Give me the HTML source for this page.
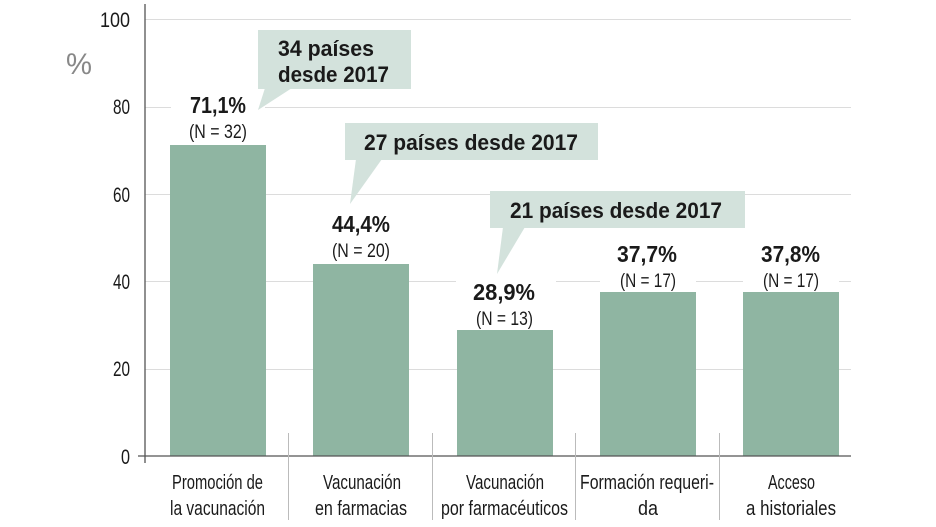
<!DOCTYPE html>
<html><head><meta charset="utf-8"><style>
html,body{margin:0;padding:0;background:#fff;width:936px;height:527px;overflow:hidden}
svg{display:block}
text{font-family:"Liberation Sans",sans-serif;fill:#1a1a1a}
.t{font-weight:bold;font-size:23px}
.n{font-size:19px}
.c{font-weight:bold;font-size:22px}
.ax{font-size:21px}
.cat{font-size:20px}
</style></head><body>
<svg width="936" height="527" viewBox="0 0 936 527">
<g stroke="#dcdcdc" stroke-width="1">
<line x1="145" y1="19.5" x2="851" y2="19.5"/>
<line x1="145" y1="107.5" x2="851" y2="107.5"/>
<line x1="145" y1="194.5" x2="851" y2="194.5"/>
<line x1="145" y1="281.5" x2="851" y2="281.5"/>
<line x1="145" y1="369.5" x2="851" y2="369.5"/>
</g>
<g fill="#fff">
<rect x="171" y="92" width="94" height="50"/>
<rect x="315" y="212" width="92" height="48"/>
<rect x="456" y="273" width="100" height="52"/>
<rect x="600" y="236" width="96" height="52"/>
<rect x="743" y="236" width="96" height="52"/>
</g>
<g fill="#8fb5a2">
<rect x="170" y="145" width="96" height="311"/>
<rect x="313" y="264" width="96" height="192"/>
<rect x="457" y="330" width="96" height="126"/>
<rect x="600" y="292" width="96" height="164"/>
<rect x="743" y="292" width="96" height="164"/>
</g>
<g stroke="#555" stroke-width="1.3">
<line x1="145" y1="4" x2="145" y2="463"/>
<line x1="138" y1="456" x2="851" y2="456"/>
</g>
<g stroke="#bbb" stroke-width="1">
<line x1="288.5" y1="433" x2="288.5" y2="520"/>
<line x1="432.5" y1="433" x2="432.5" y2="520"/>
<line x1="575.5" y1="433" x2="575.5" y2="520"/>
<line x1="719.5" y1="433" x2="719.5" y2="520"/>
</g>
<g class="ax" text-anchor="end">
<text x="130" y="27" textLength="30" lengthAdjust="spacingAndGlyphs">100</text>
<text x="130" y="114" textLength="17" lengthAdjust="spacingAndGlyphs">80</text>
<text x="130" y="202" textLength="17" lengthAdjust="spacingAndGlyphs">60</text>
<text x="130" y="289" textLength="17" lengthAdjust="spacingAndGlyphs">40</text>
<text x="130" y="376" textLength="17" lengthAdjust="spacingAndGlyphs">20</text>
<text x="130" y="464" textLength="9" lengthAdjust="spacingAndGlyphs">0</text>
</g>
<text x="66" y="74" style="font-size:30px;fill:#888" textLength="26" lengthAdjust="spacingAndGlyphs">%</text>
<g fill="#d3e2dc">
<rect x="258" y="30" width="153" height="59"/><polygon points="265,88 292,88 258,110"/>
<rect x="345" y="123" width="253" height="37"/><polygon points="356,159 382,159 350,204"/>
<rect x="490" y="191" width="255" height="37"/><polygon points="503,227 525,227 497,274"/>
</g>
<g class="c">
<text x="278" y="56" textLength="96" lengthAdjust="spacingAndGlyphs">34 países</text>
<text x="278" y="82" textLength="111" lengthAdjust="spacingAndGlyphs">desde 2017</text>
<text x="364" y="150" textLength="214" lengthAdjust="spacingAndGlyphs">27 países desde 2017</text>
<text x="510" y="218" textLength="212" lengthAdjust="spacingAndGlyphs">21 países desde 2017</text>
</g>
<g>
<text class="t" x="190" y="113" textLength="56" lengthAdjust="spacingAndGlyphs">71,1%</text><text class="n" x="189" y="138" textLength="58" lengthAdjust="spacingAndGlyphs">(N = 32)</text>
<text class="t" x="332" y="232" textLength="58" lengthAdjust="spacingAndGlyphs">44,4%</text><text class="n" x="332" y="257" textLength="58" lengthAdjust="spacingAndGlyphs">(N = 20)</text>
<text class="t" x="473" y="300" textLength="62" lengthAdjust="spacingAndGlyphs">28,9%</text><text class="n" x="476" y="325" textLength="57" lengthAdjust="spacingAndGlyphs">(N = 13)</text>
<text class="t" x="617" y="262" textLength="60" lengthAdjust="spacingAndGlyphs">37,7%</text><text class="n" x="620" y="287" textLength="56" lengthAdjust="spacingAndGlyphs">(N = 17)</text>
<text class="t" x="761" y="262" textLength="59" lengthAdjust="spacingAndGlyphs">37,8%</text><text class="n" x="763" y="287" textLength="56" lengthAdjust="spacingAndGlyphs">(N = 17)</text>
</g>
<g class="cat">
<text x="172" y="489" textLength="91" lengthAdjust="spacingAndGlyphs">Promoción de</text><text x="170" y="515" textLength="95" lengthAdjust="spacingAndGlyphs">la vacunación</text>
<text x="323" y="489" textLength="78" lengthAdjust="spacingAndGlyphs">Vacunación</text><text x="315" y="515" textLength="92" lengthAdjust="spacingAndGlyphs">en farmacias</text>
<text x="466" y="489" textLength="78" lengthAdjust="spacingAndGlyphs">Vacunación</text><text x="441" y="515" textLength="127" lengthAdjust="spacingAndGlyphs">por farmacéuticos</text>
<text x="580" y="489" textLength="134" lengthAdjust="spacingAndGlyphs">Formación requeri-</text><text x="638" y="515" textLength="20" lengthAdjust="spacingAndGlyphs">da</text>
<text x="768" y="489" textLength="47" lengthAdjust="spacingAndGlyphs">Acceso</text><text x="746" y="515" textLength="90" lengthAdjust="spacingAndGlyphs">a historiales</text>
</g>
</svg>
</body></html>
